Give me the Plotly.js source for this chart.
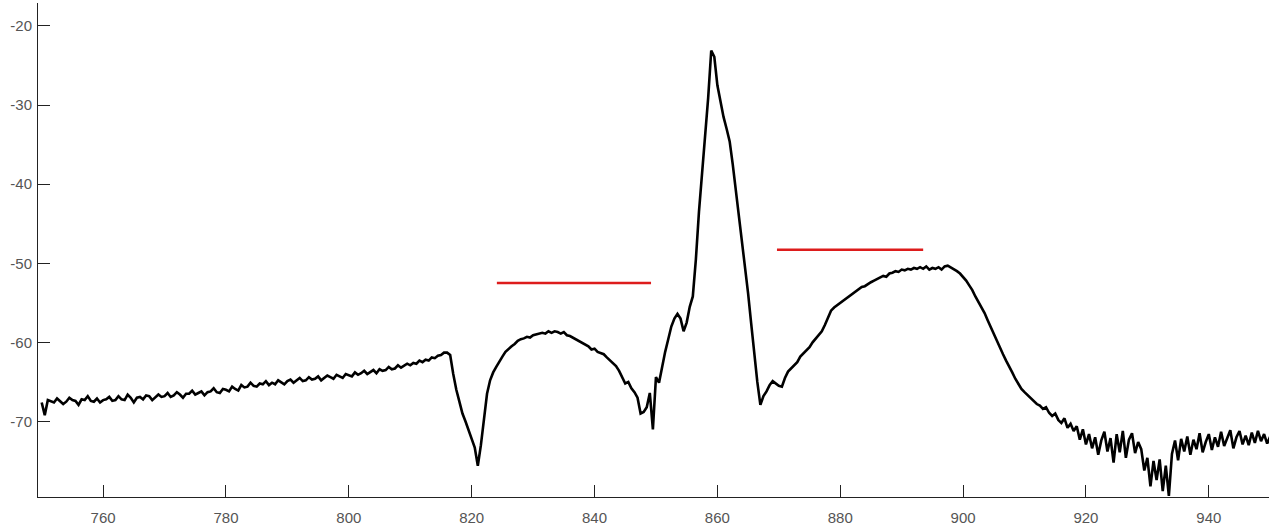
<!DOCTYPE html>
<html>
<head>
<meta charset="utf-8">
<script src="https://cdn.plot.ly/plotly-3.0.1.min.js"></script>
<style>html,body{margin:0;padding:0;background:#fff;}#chart{width:1278px;height:530px;}</style>
</head>
<body>
<div id="chart"></div>
<script>
// Spectrum sampled every 0.5 nm from 750 nm
const startNm = 750;
const stepNm = 0.5;
const spectrum = [
// 750.0 - 816.0
-67.6,-69.2,-67.3,-67.5,-67.6,-67.1,-67.4,-67.8,-67.5,-67.0,
-67.3,-67.4,-67.9,-67.2,-67.3,-66.8,-67.4,-67.5,-67.1,-67.6,
-67.3,-67.2,-66.9,-67.4,-67.3,-66.8,-67.2,-67.3,-66.6,-67.0,
-67.6,-67.0,-66.9,-67.2,-66.7,-66.8,-67.3,-66.9,-66.6,-66.9,
-66.8,-66.4,-66.9,-66.7,-66.3,-66.6,-67.0,-66.5,-66.5,-66.1,
-66.6,-66.4,-66.2,-66.7,-66.3,-66.2,-65.8,-66.3,-66.4,-65.9,
-66.0,-66.2,-65.6,-65.9,-66.1,-65.4,-65.7,-65.6,-65.1,-65.5,
-65.6,-65.2,-65.3,-64.9,-65.4,-65.1,-65.3,-64.8,-65.0,-65.3,
-64.9,-64.7,-65.1,-64.8,-64.5,-64.9,-64.8,-64.4,-64.7,-64.6,
-64.3,-64.8,-64.5,-64.2,-64.4,-64.6,-64.1,-64.3,-64.5,-64.0,
-64.2,-64.3,-63.8,-64.1,-63.9,-63.6,-64.0,-63.7,-63.5,-63.9,
-63.4,-63.6,-63.5,-63.1,-63.4,-63.3,-62.9,-63.2,-63.0,-62.7,
-62.9,-62.6,-62.7,-62.3,-62.5,-62.2,-62.3,-61.9,-62.0,-61.7,
-61.6,-61.3,-61.3,
// 816.5 - 827.0
-61.6,-64.0,-66.0,-67.5,-69.0,-70.0,-71.0,-72.2,-73.3,-75.6,
-73.0,-69.5,-66.5,-64.8,-63.8,-63.1,-62.4,-61.8,-61.2,-60.8,
-60.5,-60.2,
// 827.5 - 854.5
-59.8,-59.6,-59.5,-59.3,-59.4,
-59.1,-59.0,-58.9,-58.8,-58.9,-58.6,-58.8,-58.6,-58.7,-58.9,
-58.7,-59.1,-59.2,-59.4,-59.6,-59.8,-60.0,-60.3,-60.5,-60.9,
-60.8,-61.2,-61.4,-61.5,-61.9,-62.3,-62.6,-63.0,-63.6,-64.5,
-65.2,-65.0,-65.8,-66.3,-67.0,-69.0,-68.8,-68.2,-66.4,-71.0,
-64.4,-65.1,-63.0,-61.2,-59.6,-58.0,-57.0,-56.4,-57.0,-58.6,
// 855.0 - 867.5
-57.5,-55.5,-54.2,-49.5,-43.5,-38.7,-33.9,-29.1,-23.1,-23.9,
-27.5,-29.6,-31.5,-33.0,-34.6,-37.5,-40.7,-43.6,-46.7,-50.2,
-53.8,-57.6,-61.4,-65.0,-67.9,-66.8,
// 868.0 - 917.5
-66.2,-65.4,-64.9,-65.2,
-65.5,-65.6,-64.5,-63.7,-63.3,-62.8,-62.5,-61.8,-61.4,-61.0,
-60.6,-60.0,-59.5,-59.0,-58.6,-57.8,-57.0,-56.0,-55.6,-55.3,
-55.0,-54.8,-54.5,-54.1,-53.9,-53.6,-53.3,-53.0,-52.9,-52.6,
-52.4,-52.2,-52.0,-51.9,-51.6,-51.7,-51.3,-51.2,-51.0,-51.1,
-50.8,-50.9,-50.7,-50.8,-50.6,-50.7,-50.5,-50.7,-50.4,-50.8,
-50.6,-50.7,-50.5,-50.8,-50.4,-50.3,-50.5,-50.8,-51.0,-51.3,
-51.7,-52.2,-52.8,-53.4,-54.2,-54.9,-55.5,-56.3,-57.2,-58.1,
-59.0,-59.9,-60.8,-61.5,-62.3,-63.0,-63.8,-64.6,-65.3,-65.9,
-66.3,-66.7,-67.0,-67.4,-67.8,-68.0,-68.4,-68.2,-68.9,-69.3,
-69.0,-69.8,-70.2,-69.6,-70.8,-70.3,
// 918.0 - 950.0
-71.2,-70.6,-72.3,-71.0,
-72.9,-71.6,-73.4,-72.0,-74.2,-72.4,-71.3,-73.8,-72.1,-75.2,
-71.6,-73.9,-71.2,-74.6,-72.3,-71.5,-74.0,-72.6,-73.5,-76.2,
-74.6,-78.2,-75.0,-77.4,-74.8,-78.8,-75.6,-79.4,-74.1,-72.4,
-74.9,-72.2,-73.8,-71.9,-74.2,-72.3,-73.5,-71.5,-73.9,-72.6,
-71.6,-73.6,-72.0,-73.2,-71.3,-73.1,-72.2,-71.1,-73.4,-72.0,
-71.2,-72.9,-71.8,-73.0,-71.4,-72.7,-71.2,-72.5,-71.6,-72.8,
-71.9
];
// Red reference levels
const band1X = [824.1, 849.2];
const band1Y = [-52.5, -52.5];
const band2X = [869.7, 893.5];
const band2Y = [-48.3, -48.3];
const xTicks = [760, 780, 800, 820, 840, 860, 880, 900, 920, 940];
const yTicks = [-70, -60, -50, -40, -30, -20];

const traces = [
  {type:'scatter', mode:'lines', x0:startNm, dx:stepNm, y:spectrum,
   line:{color:'#000000', width:2.6}, hoverinfo:'skip'},
  {type:'scatter', mode:'lines', x:band1X, y:band1Y,
   line:{color:'#dd1c1c', width:2.4}, hoverinfo:'skip'},
  {type:'scatter', mode:'lines', x:band2X, y:band2Y,
   line:{color:'#dd1c1c', width:2.4}, hoverinfo:'skip'}
];
const tickFont = {family:'Arial, Liberation Sans, sans-serif', size:15, color:'#555555'};
const layout = {
  width:1278, height:530,
  margin:{l:38, r:9, t:3, b:33},
  showlegend:false,
  paper_bgcolor:'#ffffff', plot_bgcolor:'#ffffff',
  xaxis:{range:[749.4, 949.8], tickvals:xTicks, ticktext:xTicks.map(String),
    ticks:'inside', ticklen:12, tickcolor:'#222', showline:true, linecolor:'#222', linewidth:1,
    showgrid:false, zeroline:false, tickfont:tickFont, ticklabelstandoff:7, mirror:false},
  yaxis:{range:[-79.55, -17.1], tickvals:yTicks, ticktext:yTicks.map(String),
    ticks:'inside', ticklen:12, tickcolor:'#222', showline:true, linecolor:'#222', linewidth:1,
    showgrid:false, zeroline:false, tickfont:tickFont, ticklabelstandoff:2, mirror:false}
};
Plotly.newPlot('chart', traces, layout, {displayModeBar:false, staticPlot:true});
</script>
</body>
</html>
